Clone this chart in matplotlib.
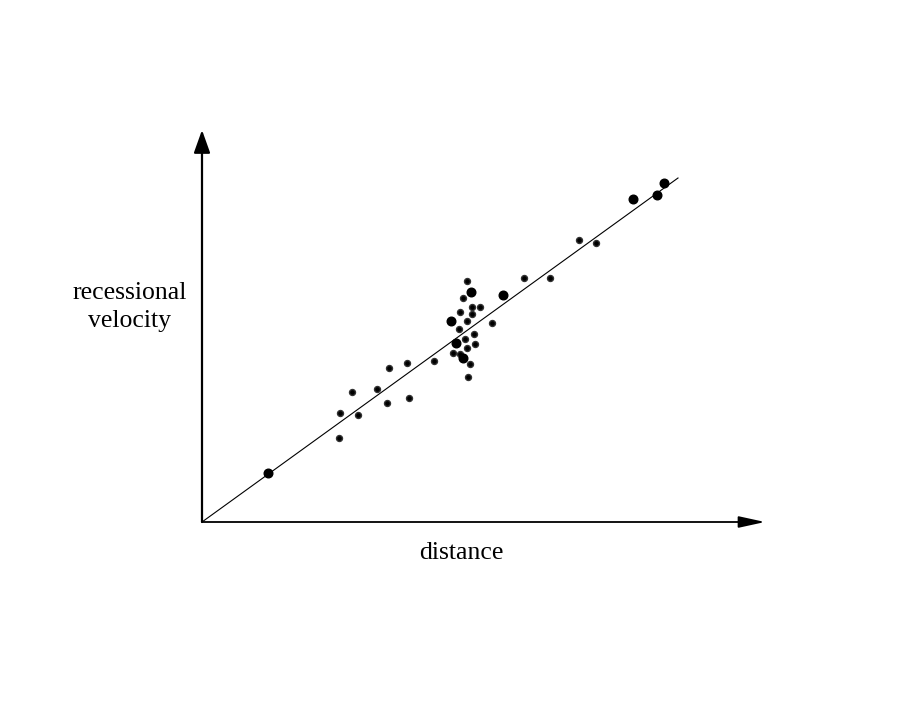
# Hubble-style diagram: recessional velocity vs distance -> out.png
import matplotlib.pyplot as plt

# distance / velocity in arbitrary units (origin at axes corner)
dist_small = [26.5, 26.1, 27.0, 27.8, 27.0, 25.8, 26.5, 29.0, 25.7, 27.2, 26.3, 27.3,
              26.5, 25.1, 25.8, 26.8, 26.6, 23.2, 20.5, 18.7, 17.5, 15.0, 18.5, 20.7,
              13.8, 15.6, 13.7, 32.2, 34.8, 37.7, 39.4]
vel_small = [24.1, 22.4, 21.5, 21.5, 20.8, 21.0, 20.1, 19.9, 19.3, 18.8, 18.3, 17.8,
             17.4, 16.9, 16.8, 15.8, 14.5, 16.1, 15.9, 15.4, 13.3, 13.0, 11.9, 12.4,
             10.9, 10.7, 8.4, 24.4, 24.4, 28.2, 27.9]
dist_big = [26.9, 30.1, 24.9, 25.4, 26.1, 6.6, 43.1, 45.5, 46.2]
vel_big = [23.0, 22.7, 20.1, 17.9, 16.4, 4.9, 32.3, 32.7, 33.9]

slope = 0.7227
line_end = 47.6
x_max, y_max = 56.3, 39.2

fig = plt.figure(figsize=(9, 7.16), dpi=100)
ax = fig.add_axes([202 / 900, 194 / 716, 563 / 900, 392 / 716])
ax.set_xlim(0, x_max)
ax.set_ylim(0, y_max)
ax.axis("off")

# axes with arrowheads
ax.annotate("", xy=(0, y_max), xytext=(0, 0), annotation_clip=False,
            arrowprops=dict(arrowstyle="-|>,head_length=1.4,head_width=0.5",
                            lw=1.6, color="black", shrinkA=0, shrinkB=0))
ax.annotate("", xy=(x_max, 0), xytext=(0, 0), annotation_clip=False,
            arrowprops=dict(arrowstyle="-|>,head_length=1.6,head_width=0.35",
                            lw=1.3, color="black", shrinkA=0, shrinkB=0))

ax.plot([0, line_end], [0, slope * line_end], color="black", lw=0.8)
ax.plot(dist_small, vel_small, "o", ms=4.3, color="black", mec="#333333", clip_on=False)
ax.plot(dist_big, vel_big, "o", ms=6.2, color="black", clip_on=False)

fig.text(130 / 900, 1 - 307 / 716, "recessional\nvelocity", ha="center", va="center",
         family="Liberation Serif", fontsize=18.5, linespacing=1.3)
fig.text(461 / 900, 1 - 553 / 716, "distance", ha="center", va="center",
         family="Liberation Serif", fontsize=18.5)

fig.savefig("out.png", dpi=100)
